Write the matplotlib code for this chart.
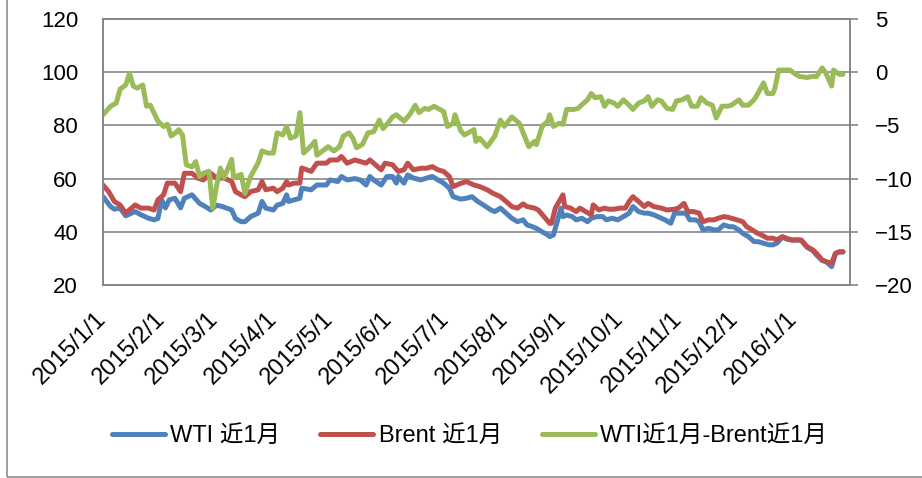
import matplotlib
matplotlib.use('Agg')
import matplotlib.pyplot as plt
import pandas as pd
from matplotlib.patches import Rectangle

plt.rcParams['font.family'] = ['Liberation Sans', 'Noto Sans CJK SC']

# 日期用 2015/1/1 起的天数表示
start = pd.Timestamp('2015-01-01')

wti_days = [0, 4, 6, 9, 12, 15, 17, 20, 24, 27, 29, 31, 33, 35, 38, 41, 43, 47, 51, 54,
            57, 60, 63, 68, 70, 73, 75, 78, 82, 84, 86, 90, 92, 95, 97, 98, 101, 104, 105, 110,
            113, 118, 120, 124, 126, 129, 133, 136, 139, 141, 143, 147, 150, 153, 155, 156, 159, 161, 164, 168,
            171, 174, 177, 180, 183, 185, 189, 192, 195, 198, 201, 205, 207, 210, 213, 216, 219, 222, 224, 227,
            229, 232, 235, 236, 238, 240, 242, 243, 245, 248, 250, 253, 256, 258, 261, 264, 266, 269, 272, 275,
            278, 280, 283, 286, 288, 291, 295, 297, 300, 302, 305, 308, 310, 313, 315, 317, 320, 323, 325, 328,
            331, 333, 336, 338, 341, 344, 346, 349, 352, 354, 356, 359, 361, 364, 367, 369, 372, 375, 377, 380,
            382, 385, 387, 389, 391]
wti = [53.2, 49.5, 48.5, 48.9, 46.0, 47.0, 47.6, 46.4, 45.1, 44.5, 45.0, 52.0, 49.0, 52.0, 52.6, 49.0, 52.6, 53.9, 50.7, 49.5,
       48.2, 50.0, 49.5, 48.2, 45.0, 43.8, 43.8, 45.7, 47.0, 51.4, 48.9, 48.2, 50.0, 50.7, 53.9, 51.4, 52.0, 52.6, 56.4, 55.8,
       57.6, 57.6, 59.5, 58.9, 60.8, 59.5, 60.0, 59.5, 57.6, 60.8, 59.5, 57.6, 60.8, 60.8, 58.3, 60.8, 58.3, 61.4, 60.2, 59.5,
       60.2, 60.8, 59.5, 58.3, 56.4, 53.2, 52.3, 52.6, 53.2, 51.4, 50.1, 48.2, 47.6, 48.9, 47.0, 45.1, 43.8, 44.5, 42.6, 41.9,
       41.3, 40.0, 38.8, 38.2, 38.8, 43.8, 48.9, 45.7, 46.3, 45.7, 44.5, 45.1, 43.8, 45.1, 45.7, 45.7, 44.5, 45.1, 44.5, 45.7,
       47.0, 49.5, 47.6, 47.0, 47.0, 46.4, 45.1, 44.5, 43.2, 47.0, 47.0, 47.0, 44.5, 44.5, 43.8, 40.7, 41.3, 40.7, 40.7, 42.6,
       41.9, 41.9, 40.7, 39.4, 38.2, 36.3, 36.3, 35.7, 35.1, 35.1, 35.7, 38.0, 37.3, 36.9, 36.9, 36.7, 34.2, 33.0, 31.3, 29.2,
       28.8, 26.9, 31.7, 32.4, 32.4]

brent_days = [0, 3, 6, 9, 12, 15, 17, 20, 24, 27, 29, 32, 34, 38, 41, 43, 47, 50, 53, 57,
              60, 64, 68, 70, 73, 75, 78, 82, 84, 86, 90, 92, 95, 97, 98, 101, 104, 105, 110, 113,
              118, 120, 124, 126, 129, 133, 136, 139, 141, 143, 147, 149, 153, 156, 159, 161, 164, 168, 171, 174,
              177, 180, 183, 185, 189, 192, 196, 199, 203, 206, 210, 213, 216, 219, 222, 224, 228, 230, 233, 236,
              237, 239, 242, 243, 244, 247, 250, 252, 255, 258, 259, 262, 265, 267, 270, 273, 276, 278, 280, 283,
              286, 288, 291, 295, 298, 302, 304, 307, 309, 312, 315, 317, 320, 323, 325, 328, 330, 332, 335, 338,
              340, 343, 346, 348, 351, 354, 356, 359, 361, 364, 367, 369, 372, 375, 377, 380, 382, 385, 387, 389,
              391]
brent = [57.6, 55.1, 51.4, 50.1, 47.0, 48.9, 50.1, 48.9, 48.9, 48.2, 52.0, 53.9, 58.3, 58.3, 55.1, 62.0, 62.0, 60.2, 59.5, 62.0,
         60.2, 60.2, 58.9, 55.1, 53.9, 53.2, 55.1, 55.8, 58.9, 55.8, 56.4, 55.1, 56.4, 58.9, 57.6, 58.3, 58.3, 64.0, 62.7, 65.8,
         65.8, 67.0, 67.0, 68.3, 65.8, 67.0, 66.4, 65.8, 67.0, 65.8, 63.3, 65.8, 65.2, 62.7, 63.3, 65.8, 63.3, 63.9, 63.9, 64.5,
         63.3, 62.7, 60.8, 57.0, 58.2, 58.9, 57.6, 57.0, 55.8, 54.5, 53.2, 51.4, 49.5, 48.9, 50.5, 49.5, 48.9, 48.2, 45.7, 43.2,
         43.2, 48.9, 52.6, 53.9, 49.5, 48.9, 47.6, 48.9, 47.6, 46.4, 50.1, 48.2, 48.9, 48.5, 48.5, 48.9, 48.9, 51.4, 53.2, 51.4,
         49.5, 50.7, 49.5, 48.9, 48.2, 48.5, 48.9, 50.7, 47.6, 47.6, 47.0, 43.8, 44.5, 44.5, 45.1, 45.7, 45.5, 45.1, 44.5, 43.8,
         42.0, 40.7, 39.4, 38.8, 37.6, 37.6, 36.9, 38.2, 37.6, 36.9, 37.0, 36.9, 34.4, 33.2, 31.9, 29.4, 28.8, 28.2, 31.9, 32.5,
         32.5]

spread_days = [0, 4, 7, 9, 12, 14, 16, 18, 21, 23, 25, 29, 32, 34, 36, 39, 40, 42, 44, 47,
               49, 51, 53, 56, 58, 60, 62, 64, 68, 69, 73, 75, 78, 82, 84, 87, 90, 92, 95, 97,
               99, 102, 104, 106, 109, 112, 113, 116, 119, 122, 125, 127, 130, 132, 134, 137, 140, 143, 146, 148,
               150, 153, 155, 159, 162, 165, 167, 170, 172, 175, 178, 180, 182, 185, 186, 189, 191, 196, 197, 199,
               203, 207, 210, 212, 216, 220, 222, 225, 228, 229, 232, 235, 236, 238, 241, 243, 245, 249, 251, 254,
               256, 258, 260, 263, 265, 267, 270, 272, 275, 278, 280, 283, 286, 288, 290, 293, 295, 298, 301, 303,
               306, 309, 311, 314, 316, 319, 322, 324, 327, 330, 332, 336, 338, 341, 344, 346, 349, 351, 354, 355,
               357, 360, 363, 366, 368, 372, 375, 377, 380, 382, 385, 386, 389, 391]
spread = [-4.0, -3.2, -2.9, -1.6, -1.2, -0.1, -1.3, -1.5, -1.2, -3.2, -3.1, -4.6, -5.1, -4.9, -6.0, -5.6, -5.4, -5.9, -8.7, -8.9,
          -8.4, -9.8, -9.5, -9.3, -12.8, -10.7, -9.0, -9.9, -8.2, -9.9, -9.6, -11.4, -9.8, -8.5, -7.4, -7.6, -7.6, -5.7, -5.9, -5.1,
          -6.2, -6.0, -3.8, -7.6, -7.1, -6.5, -7.8, -7.4, -7.0, -7.4, -7.0, -6.0, -5.7, -6.2, -7.1, -6.8, -5.7, -5.6, -4.5, -5.3,
          -4.9, -4.2, -4.0, -4.6, -4.0, -3.1, -3.8, -3.4, -3.5, -3.2, -3.5, -3.7, -5.1, -4.8, -4.0, -5.5, -5.9, -5.4, -6.5, -6.2,
          -7.0, -6.0, -4.5, -5.1, -4.2, -4.8, -5.7, -7.0, -6.5, -6.8, -5.1, -4.6, -4.0, -5.1, -4.8, -4.9, -3.5, -3.5, -3.4, -2.9,
          -2.6, -2.0, -2.4, -2.3, -3.2, -2.7, -2.9, -3.2, -2.6, -3.1, -3.5, -2.9, -2.7, -2.3, -3.2, -2.6, -2.7, -3.4, -3.5, -2.7,
          -2.6, -2.3, -3.2, -3.2, -2.4, -2.9, -3.1, -4.3, -3.2, -3.2, -3.1, -2.6, -3.1, -3.1, -2.6, -2.0, -1.0, -2.0, -2.0, -1.5,
          0.2, 0.2, 0.2, -0.2, -0.4, -0.5, -0.4, -0.4, 0.4, -0.1, -1.3, 0.2, -0.2, -0.2]

tick_dates = pd.date_range('2015-01-01', '2016-01-01', freq='MS')
tick_labels = ['2015/1/1', '2015/2/1', '2015/3/1', '2015/4/1', '2015/5/1', '2015/6/1', '2015/7/1',
               '2015/8/1', '2015/9/1', '2015/10/1', '2015/11/1', '2015/12/1', '2016/1/1']
names = ['WTI 近1月', 'Brent 近1月', 'WTI近1月-Brent近1月']


def to_dates(days):
    return start + pd.to_timedelta(days, unit='D')


fig = plt.figure(figsize=(9.22, 4.78), dpi=100)
ax = fig.add_axes([103 / 922, 1 - 285 / 478, 747 / 922, 266 / 478])
ax2 = ax.twinx()

grey = '#868686'
kw = dict(lw=3.6, solid_joinstyle='round', solid_capstyle='round')
l1, = ax.plot(to_dates(wti_days), wti, color='#4F81BD', **kw)
l2, = ax.plot(to_dates(brent_days), brent, color='#C0504D', **kw)
l3, = ax2.plot(to_dates(spread_days), spread, color='#9BBB59', **kw)

ax.set_ylim(20, 120)
ax.set_yticks(range(20, 121, 20))
ax2.set_ylim(-20, 5)
ax2.set_yticks(range(-20, 6, 5))
ax.set_xlim(start + pd.Timedelta(days=0.5), start + pd.Timedelta(days=394.7))

ax.grid(axis='y', color=grey, lw=1.2)
ax.set_axisbelow(True)
for a in (ax, ax2):
    for s in a.spines.values():
        s.set_color(grey)
        s.set_linewidth(1.2)

ax.set_xticks(tick_dates)
ax.set_xticklabels(tick_labels)
ax.tick_params(axis='x', length=0, pad=22, labelsize=17)
ax.tick_params(axis='y', length=0, pad=18, labelsize=16)
ax2.tick_params(axis='y', direction='out', length=6, width=1.2, color=grey, pad=12, labelsize=16)
plt.setp(ax.get_xticklabels(), rotation=45, ha='right', va='center', rotation_mode='anchor')

fig.legend([l1, l2, l3], names, loc='center', bbox_to_anchor=(470 / 922, 1 - 436 / 478),
           ncol=3, frameon=False, fontsize=17, handlelength=2.25, handletextpad=0.22,
           columnspacing=1.7)

# 图表外框
fig.add_artist(Rectangle((7 / 922, 1.5 / 478), 1, 1, transform=fig.transFigure,
                         fill=False, edgecolor='#8c8c8c', lw=1.2))

fig.savefig('out.png', dpi=100)
